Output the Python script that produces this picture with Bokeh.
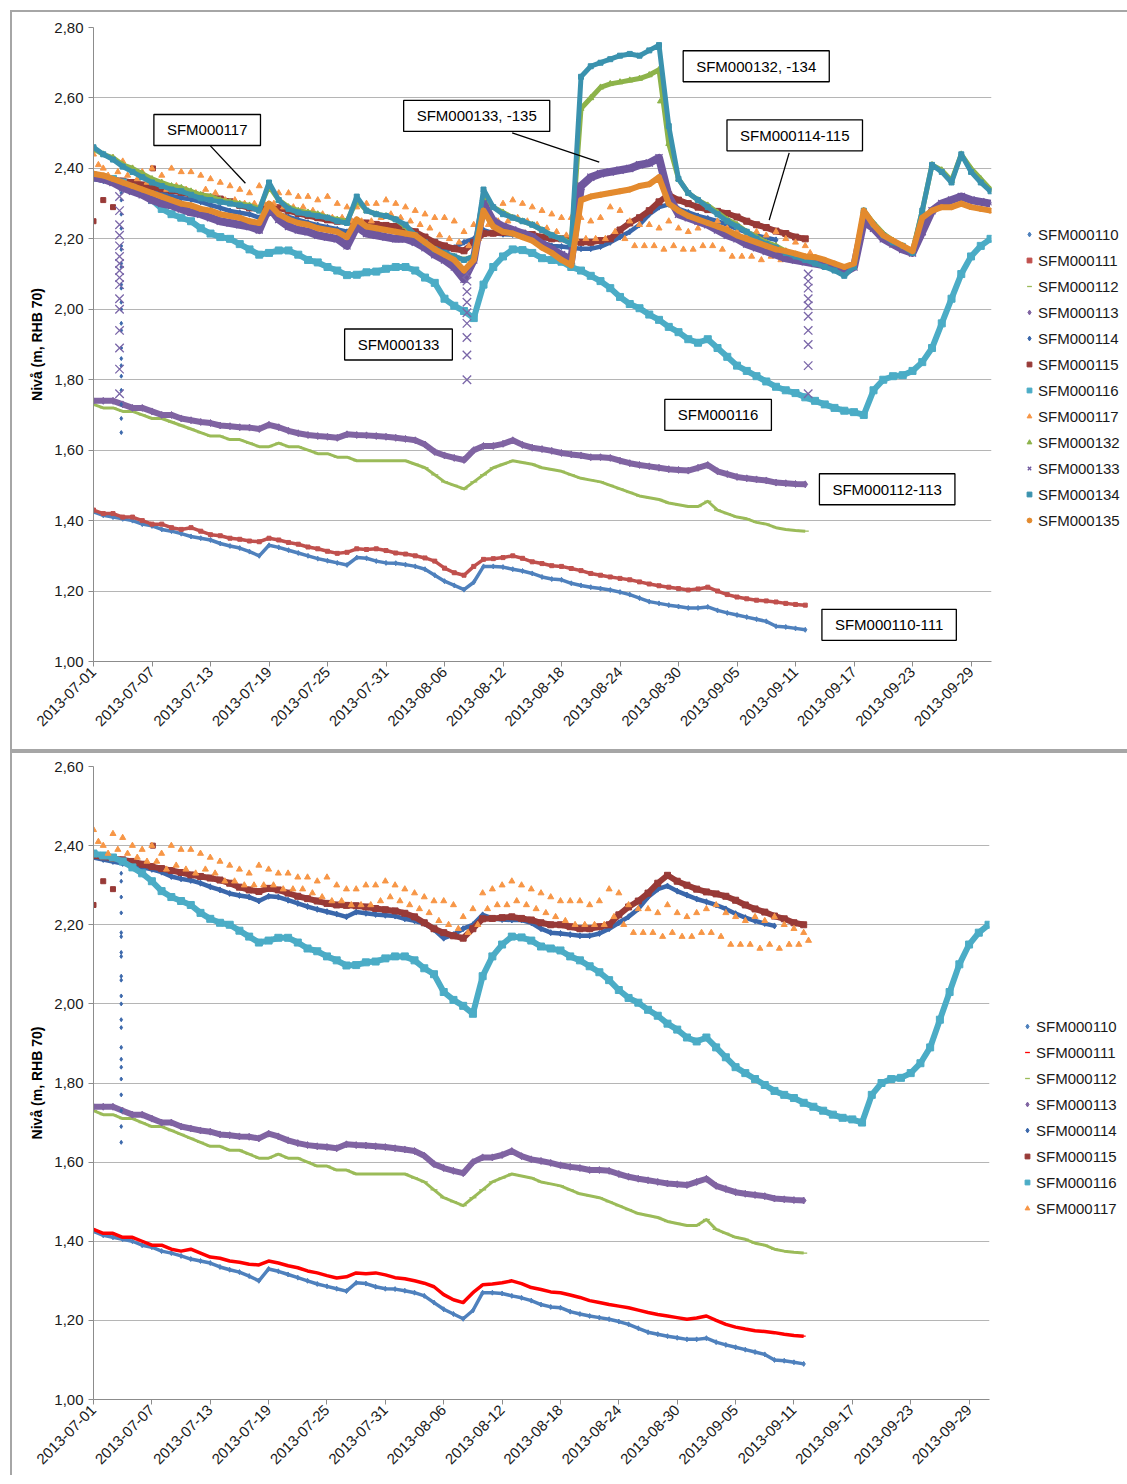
import math
from bokeh.plotting import figure
from bokeh.models import Range1d, FixedTicker, CustomJSTickFormatter, Legend, LegendItem, Label, Spacer
from bokeh.layouts import column, row
from bokeh.embed import file_html
from bokeh.resources import INLINE

FONT = "Liberation Sans"

# ---------------- data ----------------
TICK_DAYS = [0, 6, 12, 18, 24, 30, 36, 42, 48, 54, 60, 66, 72, 78, 84, 90]
TICK_LABELS = ["2013-07-01", "2013-07-07", "2013-07-13", "2013-07-19", "2013-07-25", "2013-07-31",
               "2013-08-06", "2013-08-12", "2013-08-18", "2013-08-24", "2013-08-30", "2013-09-05",
               "2013-09-11", "2013-09-17", "2013-09-23", "2013-09-29"]
Y_TICKS_TOP = [1.0, 1.2, 1.4, 1.6, 1.8, 2.0, 2.2, 2.4, 2.6, 2.8]
Y_TICKS_BOTTOM = [1.0, 1.2, 1.4, 1.6, 1.8, 2.0, 2.2, 2.4, 2.6]

DAYS_ALL = list(range(93))     # 2013-07-01 .. 2013-10-02
DAYS_0912 = list(range(74))    # 2013-07-01 .. 2013-09-12
DAYS_114 = list(range(71))     # 2013-07-01 .. 2013-09-09

SFM000110 = [1.425, 1.415, 1.41, 1.405, 1.40, 1.39, 1.385, 1.375, 1.37, 1.363,
             1.355, 1.35, 1.345, 1.335, 1.328, 1.322, 1.312, 1.30, 1.33, 1.324,
             1.316, 1.308, 1.30, 1.292, 1.286, 1.28, 1.274, 1.295, 1.293, 1.285,
             1.28, 1.279, 1.275, 1.27, 1.262, 1.245, 1.228, 1.216, 1.204, 1.225,
             1.27, 1.27, 1.268, 1.262, 1.257, 1.25, 1.24, 1.234, 1.232, 1.222,
             1.216, 1.211, 1.207, 1.203, 1.197, 1.19, 1.18, 1.17, 1.165, 1.16,
             1.156, 1.152, 1.152, 1.155, 1.145, 1.138, 1.132, 1.126, 1.12, 1.114,
             1.10, 1.098, 1.094, 1.09]
SFM000111 = [1.43, 1.42, 1.42, 1.41, 1.41, 1.40, 1.39, 1.39, 1.38, 1.375,
             1.38, 1.37, 1.36, 1.357, 1.35, 1.347, 1.342, 1.34, 1.35, 1.345,
             1.338, 1.333, 1.325, 1.32, 1.313, 1.307, 1.31, 1.32, 1.318, 1.32,
             1.315, 1.308, 1.305, 1.30, 1.294, 1.285, 1.265, 1.252, 1.245, 1.27,
             1.29, 1.292, 1.295, 1.30, 1.293, 1.283, 1.278, 1.272, 1.27, 1.264,
             1.258, 1.25, 1.245, 1.24, 1.236, 1.232, 1.226, 1.22, 1.215, 1.211,
             1.207, 1.203, 1.206, 1.211, 1.20, 1.19, 1.183, 1.178, 1.174, 1.172,
             1.169, 1.165, 1.162, 1.16]
SFM000112 = [1.73, 1.72, 1.72, 1.71, 1.71, 1.70, 1.69, 1.69, 1.68, 1.67,
             1.66, 1.65, 1.64, 1.64, 1.63, 1.63, 1.62, 1.61, 1.61, 1.62,
             1.61, 1.61, 1.60, 1.59, 1.59, 1.58, 1.58, 1.57, 1.57, 1.57,
             1.57, 1.57, 1.57, 1.56, 1.55, 1.53, 1.51, 1.50, 1.49, 1.51,
             1.53, 1.55, 1.56, 1.57, 1.565, 1.56, 1.55, 1.545, 1.54, 1.53,
             1.52, 1.515, 1.51, 1.50, 1.49, 1.48, 1.47, 1.465, 1.46, 1.45,
             1.445, 1.44, 1.44, 1.455, 1.43, 1.42, 1.41, 1.405, 1.395, 1.39,
             1.38, 1.375, 1.372, 1.37]
SFM000113 = [1.74, 1.74, 1.74, 1.73, 1.72, 1.72, 1.71, 1.70, 1.70, 1.69,
             1.685, 1.68, 1.677, 1.67, 1.668, 1.665, 1.664, 1.66, 1.672, 1.665,
             1.655, 1.648, 1.643, 1.64, 1.638, 1.635, 1.645, 1.643, 1.642, 1.64,
             1.638, 1.635, 1.632, 1.628, 1.616, 1.595, 1.585, 1.578, 1.572, 1.60,
             1.612, 1.612, 1.618, 1.628, 1.615, 1.607, 1.603, 1.598, 1.592, 1.588,
             1.585, 1.58, 1.58, 1.578, 1.57, 1.563, 1.558, 1.554, 1.55, 1.546,
             1.544, 1.542, 1.55, 1.558, 1.54, 1.532, 1.524, 1.52, 1.517, 1.514,
             1.508, 1.506, 1.504, 1.503]
SFM000114 = [2.37, 2.365, 2.36, 2.355, 2.35, 2.345, 2.34, 2.333, 2.322, 2.316,
             2.312, 2.305, 2.296, 2.288, 2.279, 2.274, 2.27, 2.26, 2.272, 2.27,
             2.262, 2.254, 2.246, 2.239, 2.233, 2.227, 2.22, 2.232, 2.229, 2.226,
             2.224, 2.222, 2.215, 2.21, 2.203, 2.188, 2.166, 2.175, 2.19, 2.20,
             2.225, 2.216, 2.213, 2.212, 2.212, 2.205, 2.19, 2.18, 2.178, 2.175,
             2.172, 2.172, 2.178, 2.19, 2.205, 2.22, 2.24, 2.27, 2.29, 2.298,
             2.285, 2.275, 2.265, 2.258, 2.25, 2.24, 2.228, 2.218, 2.21, 2.203,
             2.197]
SFM000114_SPIKE_DAY = 2.85
SFM000114_SPIKE = [2.33, 2.31, 2.27, 2.23, 2.18, 2.17, 2.13, 2.12, 2.07, 2.06, 2.02,
                   2.00, 1.96, 1.94, 1.89, 1.86, 1.84, 1.81, 1.77, 1.73, 1.69, 1.65]
SFM000115 = [2.375, 2.372, 2.368, 2.364, 2.36, 2.353, 2.347, 2.342, 2.337, 2.332,
             2.326, 2.322, 2.318, 2.313, 2.305, 2.295, 2.288, 2.284, 2.292, 2.288,
             2.28, 2.272, 2.266, 2.26, 2.254, 2.25, 2.249, 2.248, 2.245, 2.241,
             2.238, 2.235, 2.229, 2.22, 2.205, 2.19, 2.18, 2.172, 2.166, 2.19,
             2.215, 2.216, 2.218, 2.22, 2.216, 2.212, 2.205, 2.20, 2.20, 2.195,
             2.19, 2.19, 2.195, 2.20, 2.225, 2.245, 2.26, 2.28, 2.305, 2.325,
             2.31, 2.30, 2.29, 2.283, 2.278, 2.272, 2.262, 2.25, 2.24, 2.232,
             2.222, 2.215, 2.205, 2.20]
SFM000115_EXTRA_DAYS = [0.0, 1.0, 2.0, 6.1]
SFM000115_EXTRA = [2.25, 2.31, 2.29, 2.40]
SFM000116 = [2.38, 2.375, 2.37, 2.36, 2.345, 2.33, 2.31, 2.285, 2.27, 2.26,
             2.25, 2.23, 2.215, 2.205, 2.20, 2.185, 2.17, 2.155, 2.16, 2.167,
             2.167, 2.155, 2.14, 2.133, 2.12, 2.11, 2.097, 2.098, 2.105, 2.107,
             2.115, 2.12, 2.12, 2.11, 2.09, 2.075, 2.03, 2.01, 1.995, 1.975,
             2.07, 2.12, 2.15, 2.17, 2.168, 2.16, 2.145, 2.14, 2.135, 2.12,
             2.11, 2.095, 2.08, 2.06, 2.035, 2.015, 2.003, 1.985, 1.97, 1.95,
             1.935, 1.915, 1.905, 1.915, 1.89, 1.865, 1.84, 1.825, 1.81, 1.795,
             1.78, 1.77, 1.762, 1.75, 1.74, 1.73, 1.72, 1.712, 1.708, 1.70,
             1.77, 1.80, 1.81, 1.813, 1.825, 1.85, 1.89, 1.96, 2.03, 2.10,
             2.15, 2.18, 2.20]
SFM000117_HIGH = [2.44, 2.40, 2.43, 2.42, 2.40, 2.39, 2.40, 2.38, 2.40, 2.39,
                  2.39, 2.38, 2.37, 2.36, 2.35, 2.34, 2.33, 2.35, 2.34, 2.33,
                  2.33, 2.32, 2.32, 2.31, 2.32, 2.30, 2.29, 2.29, 2.30, 2.30,
                  2.31, 2.30, 2.29, 2.28, 2.27, 2.26, 2.26, 2.25, 2.22, 2.24,
                  2.28, 2.29, 2.30, 2.31, 2.30, 2.29, 2.28, 2.27, 2.26, 2.26,
                  2.26, 2.25, 2.26, 2.29, 2.28, 2.25, 2.24, 2.24, 2.23, 2.25,
                  2.23, 2.22, 2.23, 2.24, 2.25, 2.23, 2.22, 2.21, 2.22, 2.21,
                  2.22, 2.20, 2.19, 2.18]
SFM000117_LOW = [2.41, 2.38, 2.39, 2.38, 2.37, 2.36, 2.36, 2.34, 2.35, 2.34,
                 2.33, 2.34, 2.33, 2.31, 2.31, 2.30, 2.30, 2.30, 2.30, 2.29,
                 2.29, 2.29, 2.28, 2.27, 2.26, 2.26, 2.25, 2.25, 2.25, 2.26,
                 2.27, 2.26, 2.25, 2.24, 2.23, 2.21, 2.20, 2.19, 2.18, 2.20,
                 2.24, 2.25, 2.25, 2.26, 2.25, 2.24, 2.23, 2.22, 2.21, 2.20,
                 2.20, 2.20, 2.20, 2.22, 2.20, 2.18, 2.18, 2.18, 2.17, 2.18,
                 2.17, 2.17, 2.18, 2.18, 2.17, 2.15, 2.15, 2.15, 2.14, 2.15,
                 2.14, 2.15, 2.15, 2.16]
SFM000132 = [2.455, 2.44, 2.43, 2.41, 2.40, 2.385, 2.37, 2.36, 2.35, 2.345,
             2.335, 2.325, 2.32, 2.31, 2.305, 2.30, 2.295, 2.285, 2.35, 2.31,
             2.29, 2.28, 2.275, 2.27, 2.26, 2.255, 2.25, 2.31, 2.28, 2.27,
             2.265, 2.255, 2.235, 2.205, 2.185, 2.165, 2.155, 2.15, 2.14, 2.15,
             2.32, 2.29, 2.275, 2.26, 2.25, 2.24, 2.225, 2.21, 2.20, 2.19,
             2.57, 2.60, 2.63, 2.64, 2.645, 2.65, 2.655, 2.665, 2.68, 2.47,
             2.37, 2.33, 2.31, 2.295, 2.275, 2.255, 2.24, 2.22, 2.205, 2.19,
             2.18, 2.165, 2.155, 2.145, 2.135, 2.125, 2.115, 2.10, 2.12, 2.28,
             2.245, 2.215, 2.195, 2.18, 2.165, 2.28, 2.41, 2.395, 2.365, 2.44,
             2.40, 2.37, 2.34]
SFM000132_EXTRA_DAYS = [58.1]
SFM000132_EXTRA = [2.59]
SFM000133 = [2.375, 2.37, 2.36, 2.345, 2.335, 2.325, 2.31, 2.30, 2.295, 2.285,
             2.275, 2.27, 2.26, 2.25, 2.245, 2.24, 2.235, 2.225, 2.29, 2.255,
             2.235, 2.225, 2.22, 2.21, 2.205, 2.20, 2.18, 2.235, 2.215, 2.21,
             2.205, 2.20, 2.20, 2.19, 2.175, 2.155, 2.14, 2.12, 2.085, 2.14,
             2.30, 2.25, 2.235, 2.225, 2.215, 2.205, 2.185, 2.17, 2.155, 2.14,
             2.35, 2.375, 2.385, 2.39, 2.395, 2.40, 2.41, 2.415, 2.43, 2.32,
             2.27, 2.26, 2.25, 2.24, 2.225, 2.21, 2.20, 2.185, 2.175, 2.165,
             2.155, 2.145, 2.14, 2.135, 2.13, 2.125, 2.12, 2.105, 2.12, 2.25,
             2.23, 2.20, 2.185, 2.17, 2.16, 2.22, 2.28, 2.30, 2.31, 2.32,
             2.31, 2.305, 2.30]
SFM000133_DROP_DAYS = [2.67, 38.3, 73.3]
SFM000133_DROPS = [
    [2.32, 2.28, 2.24, 2.21, 2.18, 2.15, 2.13, 2.11, 2.09, 2.07, 2.03, 2.00, 1.94, 1.89, 1.83, 1.76],
    [2.10, 2.08, 2.05, 2.02, 1.99, 1.96, 1.92, 1.87, 1.80],
    [2.10, 2.08, 2.06, 2.03, 2.01, 1.98, 1.94, 1.90, 1.84, 1.76],
]
SFM000134 = [2.46, 2.44, 2.425, 2.405, 2.39, 2.375, 2.36, 2.35, 2.34, 2.335,
             2.325, 2.315, 2.31, 2.305, 2.30, 2.295, 2.29, 2.28, 2.36, 2.31,
             2.285, 2.275, 2.27, 2.265, 2.26, 2.25, 2.245, 2.32, 2.28, 2.27,
             2.265, 2.255, 2.24, 2.21, 2.19, 2.17, 2.16, 2.15, 2.14, 2.15,
             2.34, 2.29, 2.27, 2.26, 2.25, 2.24, 2.225, 2.21, 2.20, 2.185,
             2.66, 2.69, 2.70, 2.71, 2.72, 2.725, 2.72, 2.735, 2.75, 2.52,
             2.37, 2.33, 2.31, 2.29, 2.27, 2.25, 2.235, 2.22, 2.20, 2.185,
             2.175, 2.16, 2.15, 2.14, 2.13, 2.12, 2.11, 2.095, 2.12, 2.28,
             2.24, 2.21, 2.19, 2.18, 2.16, 2.28, 2.41, 2.39, 2.36, 2.44,
             2.39, 2.36, 2.335]
SFM000135 = [2.385, 2.38, 2.37, 2.36, 2.35, 2.34, 2.33, 2.32, 2.31, 2.30,
             2.295, 2.285, 2.28, 2.27, 2.265, 2.26, 2.25, 2.245, 2.30, 2.27,
             2.255, 2.245, 2.24, 2.23, 2.225, 2.22, 2.205, 2.255, 2.235, 2.23,
             2.225, 2.22, 2.215, 2.21, 2.19, 2.17, 2.155, 2.14, 2.11, 2.14,
             2.28, 2.235, 2.22, 2.215, 2.205, 2.195, 2.175, 2.16, 2.14, 2.125,
             2.31, 2.32, 2.325, 2.33, 2.335, 2.34, 2.35, 2.355, 2.375, 2.30,
             2.28, 2.265, 2.255, 2.245, 2.235, 2.225, 2.21, 2.20, 2.19, 2.18,
             2.17, 2.165, 2.158, 2.15, 2.148, 2.14, 2.13, 2.12, 2.13, 2.28,
             2.24, 2.21, 2.195, 2.18, 2.165, 2.26, 2.28, 2.29, 2.29, 2.30,
             2.29, 2.285, 2.28]

# callout boxes (top panel)
ANNOT_TEXT = ["SFM000117", "SFM000133, -135", "SFM000132, -134", "SFM000114-115",
              "SFM000133", "SFM000116", "SFM000112-113", "SFM000110-111"]
ANNOT_DAY = [11.66, 39.3, 67.97, 71.92, 31.28, 64.06, 81.4, 81.6]
ANNOT_LEVEL = [2.509, 2.549, 2.690, 2.494, 1.90, 1.70, 1.489, 1.104]
LEADER_X0 = [11.99, 42.94, 71.35]
LEADER_Y0 = [2.464, 2.501, 2.444]
LEADER_X1 = [15.58, 51.87, 69.3]
LEADER_Y1 = [2.358, 2.418, 2.253]

# ---------------- styles ----------------
STYLE = {
    "SFM000110": ("#4F81BD", "diamond", 5, 3.5),
    "SFM000111": ("#C0504D", "square", 4, 3.5),
    "SFM000112": ("#9BBB59", "dash", 7, 3.0),
    "SFM000113": ("#8064A2", "diamond", 7, 6.0),
    "SFM000114": ("#3A67AB", "diamond", 6, 4.5),
    "SFM000115": ("#983A37", "square", 6, 6.0),
    "SFM000116": ("#4BACC6", "square", 7, 6.0),
    "SFM000117": ("#F79646", "triangle", 6, 0),
    "SFM000132": ("#8DB34A", "triangle", 6, 5.0),
    "SFM000133": ("#6F579E", "x", 10, 8.0),
    "SFM000134": ("#3A92AE", "square", 5, 5.0),
    "SFM000135": ("#E38A2E", "circle", 5, 6.0),
}


def draw(p, x, y, name, color=None, marker=None):
    c, m, s, lw = STYLE[name]
    c = color or c
    m = marker or m
    if lw > 0:
        p.line(x, y, line_color=c, line_width=lw, line_join="round")
    return p.scatter(x, y, marker=m, size=s, fill_color=c, line_color=c,
                     line_width=1.3 if m in ("x", "dash") else 1)


def make_panel(frame_h, ymax, yticks, btop, bbottom, css):
    p = figure(x_range=Range1d(0, 92.1), y_range=Range1d(1.0, ymax),
               output_backend="svg", toolbar_location=None,
               frame_width=894, frame_height=frame_h,
               min_border_left=81, min_border_right=136,
               min_border_top=btop, min_border_bottom=bbottom)
    p.styles = css
    p.outline_line_color = None
    p.xgrid.visible = False
    p.ygrid.grid_line_color = "#B5B5B5"
    p.ygrid.grid_line_width = 1
    xa = p.xaxis[0]
    xa.ticker = FixedTicker(ticks=TICK_DAYS)
    xa.major_label_overrides = dict(zip(TICK_DAYS, TICK_LABELS))
    xa.major_label_orientation = math.pi / 4
    xa.major_label_standoff = 3
    ya = p.yaxis[0]
    ya.ticker = FixedTicker(ticks=yticks)
    ya.formatter = CustomJSTickFormatter(code="return tick.toFixed(2).replace('.', ',');")
    ya.axis_label = "Nivå (m, RHB 70)"
    ya.axis_label_text_font_style = "bold"
    ya.axis_label_text_font_size = "14px"
    ya.axis_label_text_font = FONT
    ya.axis_label_text_color = "#000000"
    ya.axis_label_standoff = 6
    for ax in (xa, ya):
        ax.axis_line_color = "#8C8C8C"
        ax.major_tick_line_color = "#8C8C8C"
        ax.major_tick_out = 5
        ax.major_tick_in = 0
        ax.minor_tick_line_color = None
        ax.major_label_text_font = FONT
        ax.major_label_text_font_size = "15px"
        ax.major_label_text_color = "#1A1A1A"
    return p


def add_legend(p, items, loc):
    leg = Legend(items=items, location=loc, background_fill_alpha=0, border_line_alpha=0,
                 label_text_font=FONT, label_text_font_size="15px", label_text_color="#1A1A1A",
                 glyph_width=12, glyph_height=12, label_height=20, spacing=6, padding=0,
                 margin=0, label_standoff=3)
    p.add_layout(leg, "right")


# ---------------- top panel ----------------
p1 = make_panel(630, 2.8, Y_TICKS_TOP, 15, 92, {"border": "2px solid #A6A6A6"})
r1 = {}
r1["SFM000110"] = draw(p1, DAYS_0912, SFM000110, "SFM000110")
r1["SFM000111"] = draw(p1, DAYS_0912, SFM000111, "SFM000111")
r1["SFM000112"] = draw(p1, DAYS_0912, SFM000112, "SFM000112")
r1["SFM000113"] = draw(p1, DAYS_0912, SFM000113, "SFM000113")
r1["SFM000114"] = draw(p1, DAYS_114, SFM000114, "SFM000114")
p1.scatter([SFM000114_SPIKE_DAY] * len(SFM000114_SPIKE), SFM000114_SPIKE, marker="diamond",
           size=4, color=STYLE["SFM000114"][0])
r1["SFM000115"] = draw(p1, DAYS_0912, SFM000115, "SFM000115")
p1.scatter(SFM000115_EXTRA_DAYS, SFM000115_EXTRA, marker="square", size=5, color=STYLE["SFM000115"][0])
r1["SFM000116"] = draw(p1, DAYS_ALL, SFM000116, "SFM000116")
r1["SFM000117"] = draw(p1, DAYS_0912, SFM000117_HIGH, "SFM000117")
draw(p1, [d + 0.5 for d in DAYS_0912], SFM000117_LOW, "SFM000117")
r1["SFM000132"] = draw(p1, DAYS_ALL, SFM000132, "SFM000132")
p1.scatter(SFM000132_EXTRA_DAYS, SFM000132_EXTRA, marker="triangle", size=5, color=STYLE["SFM000132"][0])
r1["SFM000133"] = draw(p1, DAYS_ALL, SFM000133, "SFM000133")
for dday, vals in zip(SFM000133_DROP_DAYS, SFM000133_DROPS):
    p1.scatter([dday] * len(vals), vals, marker="x", size=12, line_width=1.3,
               line_color="#7A66A8")
r1["SFM000134"] = draw(p1, DAYS_ALL, SFM000134, "SFM000134")
r1["SFM000135"] = draw(p1, DAYS_ALL, SFM000135, "SFM000135")

p1.segment(LEADER_X0, LEADER_Y0, LEADER_X1, LEADER_Y1, line_color="black", line_width=1.3)
for t, dx, lv in zip(ANNOT_TEXT, ANNOT_DAY, ANNOT_LEVEL):
    p1.add_layout(Label(x=dx, y=lv, text=t, text_align="center", text_baseline="middle",
                        text_font=FONT, text_font_size="15px", text_color="#000000",
                        border_line_color="black", border_line_width=1.3,
                        background_fill_color="white", padding=(13, 7)))

top_names = ["SFM000110", "SFM000111", "SFM000112", "SFM000113", "SFM000114", "SFM000115",
             "SFM000116", "SFM000117", "SFM000132", "SFM000133", "SFM000134", "SFM000135"]
add_legend(p1, [LegendItem(label=n, renderers=[r1[n]]) for n in top_names], (32, 131))

# ---------------- bottom panel ----------------
p2 = make_panel(631, 2.6, Y_TICKS_BOTTOM, 13, 78,
                {"border-left": "2px solid #A6A6A6", "border-top": "2px solid #A6A6A6"})
r2 = {}
r2["SFM000110"] = draw(p2, DAYS_0912, SFM000110, "SFM000110")
r2["SFM000111"] = draw(p2, DAYS_0912, SFM000111, "SFM000111", color="#FF0000", marker="dash")
r2["SFM000112"] = draw(p2, DAYS_0912, SFM000112, "SFM000112")
r2["SFM000113"] = draw(p2, DAYS_0912, SFM000113, "SFM000113")
r2["SFM000114"] = draw(p2, DAYS_114, SFM000114, "SFM000114")
p2.scatter([SFM000114_SPIKE_DAY] * len(SFM000114_SPIKE), SFM000114_SPIKE, marker="diamond",
           size=4, color=STYLE["SFM000114"][0])
r2["SFM000115"] = draw(p2, DAYS_0912, SFM000115, "SFM000115")
p2.scatter(SFM000115_EXTRA_DAYS, SFM000115_EXTRA, marker="square", size=5, color=STYLE["SFM000115"][0])
r2["SFM000116"] = draw(p2, DAYS_ALL, SFM000116, "SFM000116")
r2["SFM000117"] = draw(p2, DAYS_0912, SFM000117_HIGH, "SFM000117")
draw(p2, [d + 0.5 for d in DAYS_0912], SFM000117_LOW, "SFM000117")

add_legend(p2, [LegendItem(label=n, renderers=[r2[n]]) for n in top_names[:8]], (32, 181))

layout = column(Spacer(height=10), row(Spacer(width=10), column(p1, p2, spacing=0), spacing=0), spacing=0)
open("out.html", "w").write(file_html(layout, INLINE))
